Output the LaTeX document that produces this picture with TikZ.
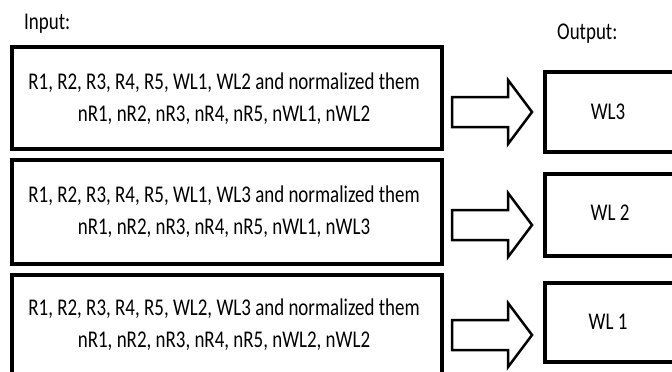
\documentclass[tikz,border=0pt]{standalone}
\usepackage{fontspec}
\setmainfont{Carlito}
\newfontfamily\narrowfont[FakeStretch=0.79]{Carlito}
\begin{document}
\begin{tikzpicture}[x=1pt,y=-1pt,
  inbox/.style={draw,line width=3.5pt,minimum width=430pt,anchor=north west,inner sep=0pt},
  outbox/.style={draw,line width=3.5pt,minimum width=140pt,anchor=north west,inner sep=0pt},
  intext/.style={font=\narrowfont\fontsize{24}{32}\selectfont,align=center,inner sep=0pt},
  outtext/.style={font=\narrowfont\fontsize{24}{32}\selectfont,inner sep=0pt},
  blockarrow/.style={draw,line width=2.5pt,line join=miter}]
\useasboundingbox (0,0) rectangle (672,372);
\clip (0,0) rectangle (672,372);
\node[outtext,anchor=west] (inlabel) at (24,24) {Input:};
\node[outtext,anchor=west] (outlabel) at (557,34) {Output:};
% input boxes
\node[inbox,minimum height=102pt] (b1) at (10,45) {};
\node[inbox,minimum height=104pt] (b2) at (10,158) {};
\node[inbox,minimum height=120pt] (b3) at (10,273) {};
\node[intext] (t1) at (224,99) {R1, R2, R3, R4, R5, WL1, WL2 and normalized them\\nR1, nR2, nR3, nR4, nR5, nWL1, nWL2};
\node[intext] (t2) at (224,212) {R1, R2, R3, R4, R5, WL1, WL3 and normalized them\\nR1, nR2, nR3, nR4, nR5, nWL1, nWL3};
\node[intext] (t3) at (224,325) {R1, R2, R3, R4, R5, WL2, WL3 and normalized them\\nR1, nR2, nR3, nR4, nR5, nWL2, nWL2};
% output boxes
\node[outbox,minimum height=80pt] (o1) at (543,70) {};
\node[outbox,minimum height=82pt] (o2) at (543,172) {};
\node[outbox,minimum height=79pt] (o3) at (543,281) {};
\node[outtext] (w1) at (608,112) {WL3};
\node[outtext] (w2) at (610,213) {WL 2};
\node[outtext] (w3) at (608,322) {WL 1};
% block arrows
\coordinate (a1) at (452,112);
\coordinate (a2) at (452,225);
\coordinate (a3) at (452,335);
\foreach \a in {a1,a2,a3}{
  \draw[blockarrow] (\a) ++(0,-15) -- ++(56,0) -- ++(0,-17) -- ++(24,32) -- ++(-24,32) -- ++(0,-17) -- ++(-56,0) -- cycle;
}
\end{tikzpicture}
\end{document}
